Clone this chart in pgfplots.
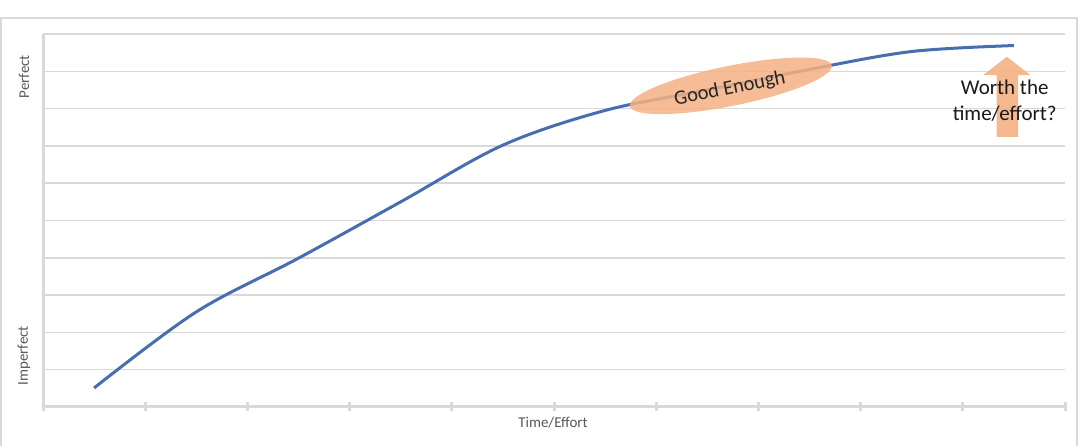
\documentclass[border=0pt]{standalone}
\usepackage{pgfplots}
\pgfplotsset{compat=1.18}
\usepackage{fontspec}
\setmainfont{Carlito}
\definecolor{lineblue}{RGB}{70,110,176}
\definecolor{peach}{RGB}{244,177,131}
\definecolor{gridgray}{RGB}{217,217,217}
\definecolor{labgray}{RGB}{89,89,89}
\begin{document}
\begin{tikzpicture}[x=1bp,y=1bp]
\useasboundingbox (0,0) rectangle (1080,446);
\fill[white] (0,0) rectangle (1080,446);
\draw[gray!30, line width=1.5bp] (1,-5) -- (1,428) -- (1077,428) -- (1077,-5);
\begin{axis}[
  at={(43bp,39bp)}, anchor=south west,
  scale only axis, width=1022bp, height=373bp,
  xmin=0, xmax=10, ymin=0, ymax=10,
  axis x line=bottom, axis y line=left,
  axis line style={draw=gridgray, line width=3bp, -},
  xtick={0,...,10}, xticklabels={},
  ytick={1,...,10}, yticklabels={},
  ymajorgrids, grid style={draw=gridgray, line width=1.5bp},
  x tick style={draw=gridgray, line width=3bp},
  xtick align=center, major tick length=9bp,
  y tick style={draw=none},
  clip=false,
]
\addplot[lineblue, line width=3bp, smooth, tension=0.55, no marks] coordinates {
  (0.5,0.51) (1.5,2.55) (2.5,3.99) (3.5,5.50) (4.5,7.02) (5.5,7.95)
  (6.5,8.50) (7.5,9.05) (8.5,9.53) (9.5,9.69)
};
\fill[peach, opacity=0.85, rotate around={11.4:(axis cs:6.73,8.61)}]
  (axis cs:6.73,8.61) ellipse [x radius=103bp, y radius=20bp];
\node[rotate=11.4, text=black!85] at (axis cs:6.72,8.53)
  {\fontsize{20.5bp}{24bp}\selectfont Good Enough};
\fill[peach, opacity=0.9]
  (axis cs:9.33,7.24) -- (axis cs:9.33,8.90) -- (axis cs:9.20,8.90)
  -- (axis cs:9.43,9.39) -- (axis cs:9.66,8.90) -- (axis cs:9.54,8.90)
  -- (axis cs:9.54,7.24) -- cycle;
\node[align=center, text=black!90, font=\fontsize{21bp}{26.5bp}\selectfont]
  at (axis cs:9.41,8.21) {Worth the\\time/effort?};
\end{axis}
\node[rotate=90, text=labgray, font=\fontsize{15bp}{17bp}\selectfont] at (24,369.3) {Perfect};
\node[rotate=90, text=labgray, font=\fontsize{15bp}{17bp}\selectfont] at (24,90.2) {Imperfect};
\node[text=labgray, font=\fontsize{15bp}{17bp}\selectfont] at (553,23) {Time/Effort};
\end{tikzpicture}
\end{document}
